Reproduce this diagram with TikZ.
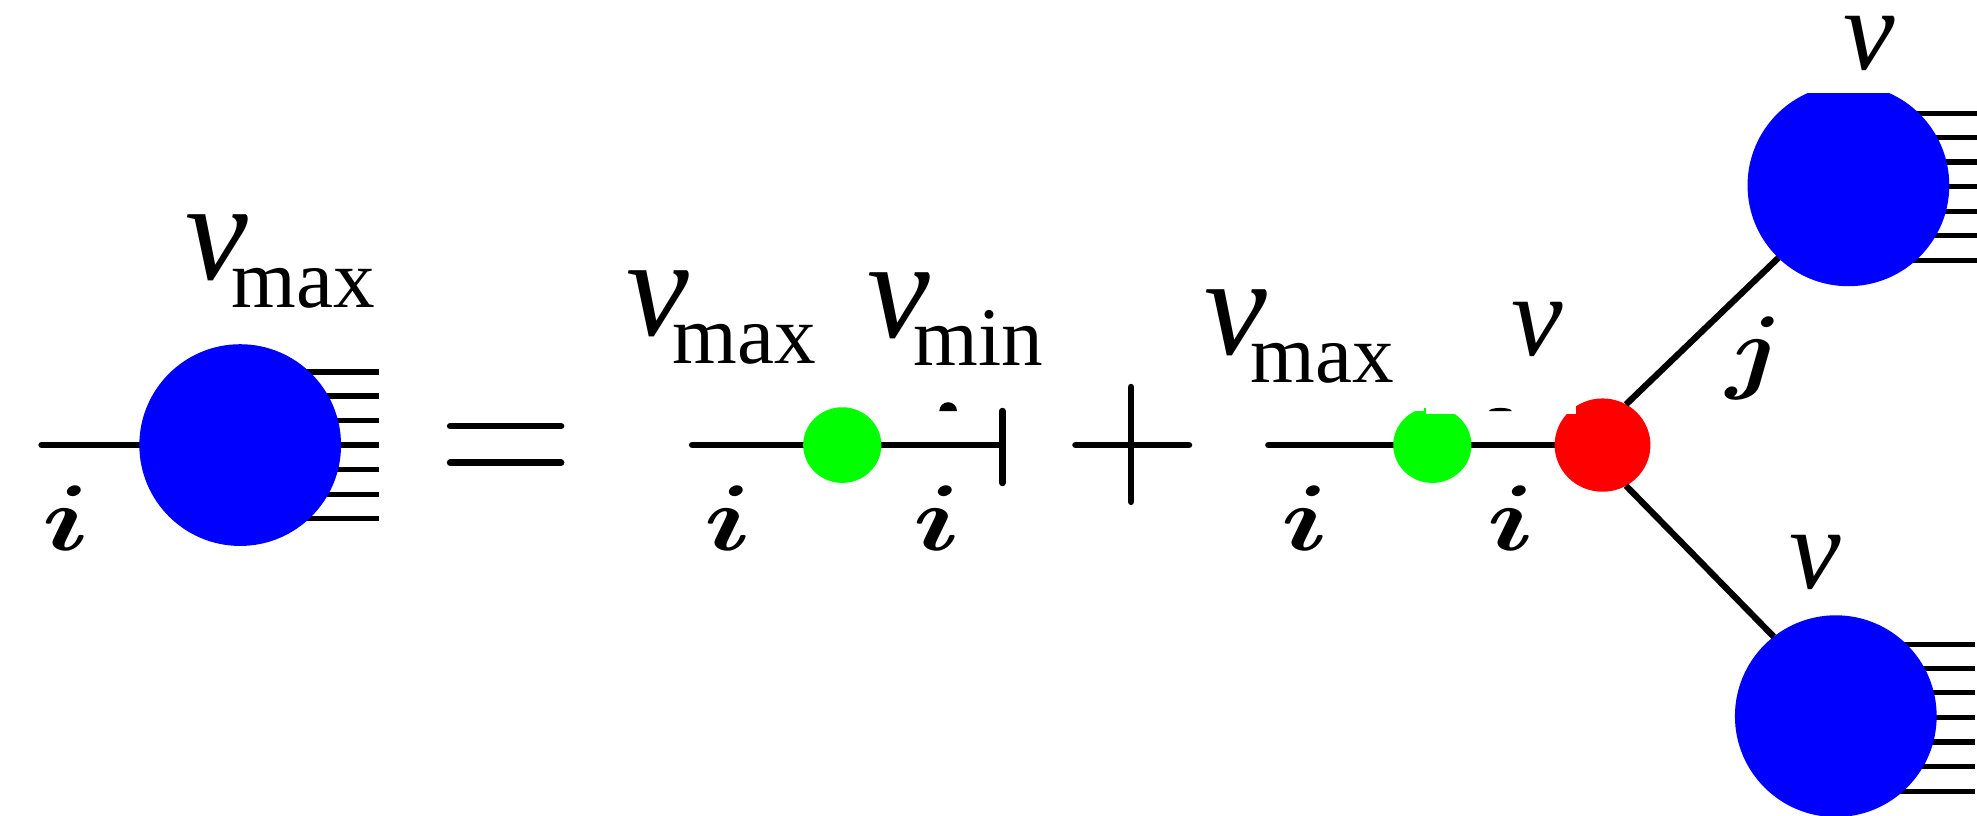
\documentclass[tikz,border=0pt]{standalone}
\usepackage{fontspec}
\setmainfont{Liberation Serif}
\usetikzlibrary{shapes.geometric}
\newcommand{\vlab}[1][46]{\fontsize{#1}{#1}\selectfont\itshape v}
\newcommand{\vsubl}[1]{{\fontsize{56}{56}\selectfont\itshape v}\kern-6.5pt\raisebox{-11pt}{\fontsize{33}{33}\selectfont #1}}
\newcommand{\bigi}{\scalebox{4.6}[3.7]{\boldmath$i$}}
\newcommand{\bigj}{\scalebox{4.2}[3.7]{\boldmath$j$}}
\tikzset{
  x=0.5pt,y=-0.5pt,
  ln/.style={line width=2.6pt,black,line cap=round},
  cmb/.style={line width=2.1pt,black},
  arm/.style={line width=2.5pt,black},
  lab/.style={inner sep=0pt,outer sep=0pt,anchor=base west,text=black},
  idx/.style={inner sep=0pt,outer sep=0pt,anchor=center,text=black},
  blob/.style={ellipse,inner sep=0pt,outer sep=0pt,minimum width=80pt,minimum height=80pt,fill=blue},
  gdot/.style={ellipse,inner sep=0pt,outer sep=0pt,minimum width=31pt,minimum height=30pt,fill=green},
  rdot/.style={ellipse,inner sep=0pt,outer sep=0pt,minimum width=38pt,minimum height=37pt,fill=red},
  mask/.style={fill=white,draw=none}
}
\begin{document}
\begin{tikzpicture}
\useasboundingbox (0,0) rectangle (1568,647);
\coordinate (b1) at (190.5,353);
\coordinate (g1) at (668,353);
\coordinate (g2) at (1136,353);
\coordinate (r) at (1271,353);
\coordinate (b2) at (1466,147);
\coordinate (b3) at (1456,568);
\coordinate (a1) at (33,353);
\coordinate (a2) at (549,353);
\coordinate (a3) at (795,353);
\coordinate (a4) at (1006,353);
\coordinate (t1) at (795,326);
\coordinate (t2) at (795,383);
% lines behind the discs
\draw[ln] (a1) -- (b1);
\draw[ln] (a2) -- (a3);
\draw[ln] (t1) -- (t2);
\draw[ln] (a4) -- (r);
% combs
\foreach \d in {-58,-39,-19.5,0,19.5,39,58.5}{
  \draw[cmb] ([yshift=-\d*0.5pt]b1) -- ++(110,0);
  \draw[cmb] ([yshift=-\d*0.5pt-0.5pt]b2) -- ++(102,0);
  \draw[cmb] ([yshift=-\d*0.5pt-0.5pt]b3) -- ++(110,0);
}
% discs
\node[blob] (B1) at (b1) {};
\node[blob] (B2) at (b2) {};
\node[blob] (B3) at (b3) {};
\node[gdot] (G1) at (g1) {};
\node[gdot] (G2) at (g2) {};
\node[rdot] (R) at (r) {};
% arms of the vertex
\draw[arm] (R.60) -- (B2.226);
\draw[arm] (R.-60) -- (B3.128);
% white masks cut by the pasted labels
\fill[mask] (1390,40) rectangle (1568,74);
\fill[mask] (1090,300) rectangle (1129,326);
\fill[mask] (1131,300) rectangle (1250,328);
% small remnants
\fill[black] (745,326) arc[start angle=180,end angle=360,x radius=7,y radius=7] -- cycle;
\fill[black] (1181,326) arc[start angle=180,end angle=360,x radius=9,y radius=2.5] -- cycle;
% equals and plus
\coordinate (e1) at (357,338); \coordinate (e2) at (445,338);
\coordinate (e3) at (357,367); \coordinate (e4) at (445,367);
\draw[ln] (e1) -- (e2);
\draw[ln] (e3) -- (e4);
\coordinate (p1) at (853,353); \coordinate (p2) at (943,353);
\coordinate (p3) at (897,307); \coordinate (p4) at (897,398);
\draw[ln] (p1) -- (p2);
\draw[ln] (p3) -- (p4);
% labels
\node[lab] (L1) at (147,222) {\vsubl{max}};
\node[lab] (L2) at (497,266) {\vsubl{max}};
\node[lab] (L3) at (688,268) {\vsubl{min}};
\node[lab] (L4) at (955,281) {\vsubl{max}};
\node[lab] (L5) at (1199,282) {\vlab};
\node[lab] (L6) at (1462,55) {\vlab};
\node[lab] (L7) at (1419,467) {\vlab};
\node[idx] (i1) at (52,411) {\bigi};
\node[idx] (i2) at (577,411) {\bigi};
\node[idx] (i3) at (743,411) {\bigi};
\node[idx] (i4) at (1035,411) {\bigi};
\node[idx] (i5) at (1198,411) {\bigi};
\node[idx] (j1) at (1392,284) {\bigj};
\end{tikzpicture}
\end{document}
